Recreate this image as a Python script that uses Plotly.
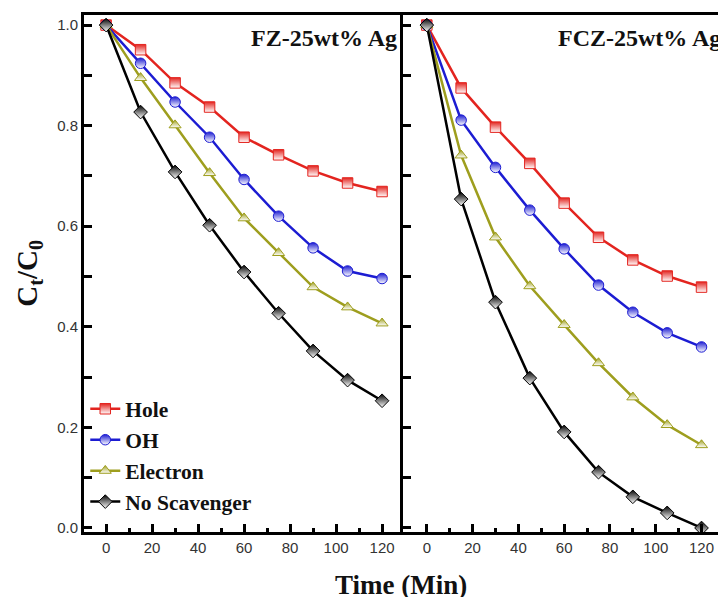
import plotly.graph_objects as go

time_min = [0, 15, 30, 45, 60, 75, 90, 105, 120]

series_names = ["Hole", "OH", "Electron", "No Scavenger"]

fz_hole = [1.0, 0.951, 0.885, 0.837, 0.777, 0.742, 0.710, 0.686, 0.669]
fz_oh = [1.0, 0.924, 0.847, 0.777, 0.693, 0.620, 0.557, 0.511, 0.496]
fz_electron = [1.0, 0.895, 0.801, 0.706, 0.616, 0.547, 0.479, 0.439, 0.407]
fz_none = [1.0, 0.827, 0.708, 0.602, 0.509, 0.427, 0.352, 0.294, 0.253]

fcz_hole = [1.0, 0.875, 0.797, 0.725, 0.646, 0.578, 0.533, 0.501, 0.479]
fcz_oh = [1.0, 0.811, 0.717, 0.632, 0.555, 0.483, 0.429, 0.388, 0.360]
fcz_electron = [1.0, 0.741, 0.578, 0.481, 0.404, 0.328, 0.260, 0.205, 0.165]
fcz_none = [1.0, 0.654, 0.449, 0.298, 0.191, 0.111, 0.062, 0.030, 0.000]

panel_titles = ["FZ-25wt% Ag", "FCZ-25wt% Ag"]

colors = ["#e3241f", "#1c1cd2", "#9e9e1e", "#000000"]
symbols = ["square", "circle", "triangle-up", "diamond"]

fig = go.Figure()

panels = [
    ("x", "y", [fz_hole, fz_oh, fz_electron, fz_none], True),
    ("x2", "y2", [fcz_hole, fcz_oh, fcz_electron, fcz_none], False),
]
for xa, ya, data, show in panels:
    for name, vals, col, sym in zip(series_names, data, colors, symbols):
        fig.add_trace(go.Scatter(
            x=time_min, y=vals, mode="lines+markers", name=name,
            xaxis=xa, yaxis=ya, showlegend=show,
            line=dict(color=col, width=2.5),
            marker=dict(symbol=sym, size=10.5, color=col,
                        gradient=dict(type="vertical", color="white"),
                        line=dict(color=col, width=1)),
        ))

split = 319 / 634
serif = "Liberation Serif, Times New Roman"
tickfont = dict(family="Liberation Sans, Arial", size=15, color="#333333")
common_x = dict(
    showline=True, linecolor="black", linewidth=3, mirror=True,
    ticks="inside", ticklen=8, tickwidth=3, tickcolor="black",
    tick0=0, dtick=20, tickfont=tickfont, showgrid=False, zeroline=False,
    automargin=False,
    minor=dict(ticks="inside", ticklen=4, tickwidth=3, tickcolor="black", dtick=10, showgrid=False),
)
common_y = dict(
    showline=True, linecolor="black", linewidth=3,
    ticks="inside", ticklen=8, tickwidth=3, tickcolor="black",
    tick0=0, dtick=0.2, tickformat=".1f", tickfont=tickfont,
    showgrid=False, zeroline=False, range=[-0.008, 1.02], automargin=False,
    minor=dict(ticks="inside", ticklen=8, tickwidth=3, tickcolor="black", dtick=0.1, showgrid=False),
)

fig.update_layout(
    width=718, height=597,
    margin=dict(l=84, r=0, t=15, b=65, autoexpand=False),
    plot_bgcolor="white", paper_bgcolor="white",
    xaxis=dict(domain=[0, split], range=[-9.6, 129.1], anchor="y", **common_x),
    xaxis2=dict(domain=[split, 1], range=[-10.4, 127.2], anchor="y2", **common_x),
    yaxis=dict(domain=[0, 1], anchor="x", **common_y),
    yaxis2=dict(domain=[0, 1], anchor="x2", showticklabels=False, **common_y),
    legend=dict(
        x=0.002, y=0.278, xanchor="left", yanchor="top",
        bgcolor="rgba(0,0,0,0)",
        font=dict(family=serif, size=21.5, color="#111111", weight="bold"),
        itemwidth=30, tracegroupgap=0,
    ),
    annotations=[
        dict(text=panel_titles[0], xref="x", yref="paper", x=127.5, y=0.955,
             xanchor="right", yanchor="middle", showarrow=False,
             font=dict(family=serif, size=24, color="#111111", weight="bold")),
        dict(text=panel_titles[1], xref="x2", yref="paper", x=56.5, y=0.955,
             xanchor="left", yanchor="middle", showarrow=False,
             font=dict(family=serif, size=24, color="#111111", weight="bold")),
        dict(text="C<sub>t</sub>/C<sub>0</sub>", xref="paper", yref="paper",
             x=-0.088, y=0.50, textangle=-90, showarrow=False,
             xanchor="center", yanchor="middle",
             font=dict(family=serif, size=29, color="#111111", weight="bold")),
        dict(text="Time (Min)", xref="paper", yref="paper",
             x=0.5, y=-0.103, showarrow=False, xanchor="center", yanchor="middle",
             font=dict(family=serif, size=27, color="#111111", weight="bold")),
    ],
)

fig.write_html(
    "out.html",
    config={"displayModeBar": False},
    post_script="document.body.style.margin='0';document.body.style.overflow='hidden';",
)
